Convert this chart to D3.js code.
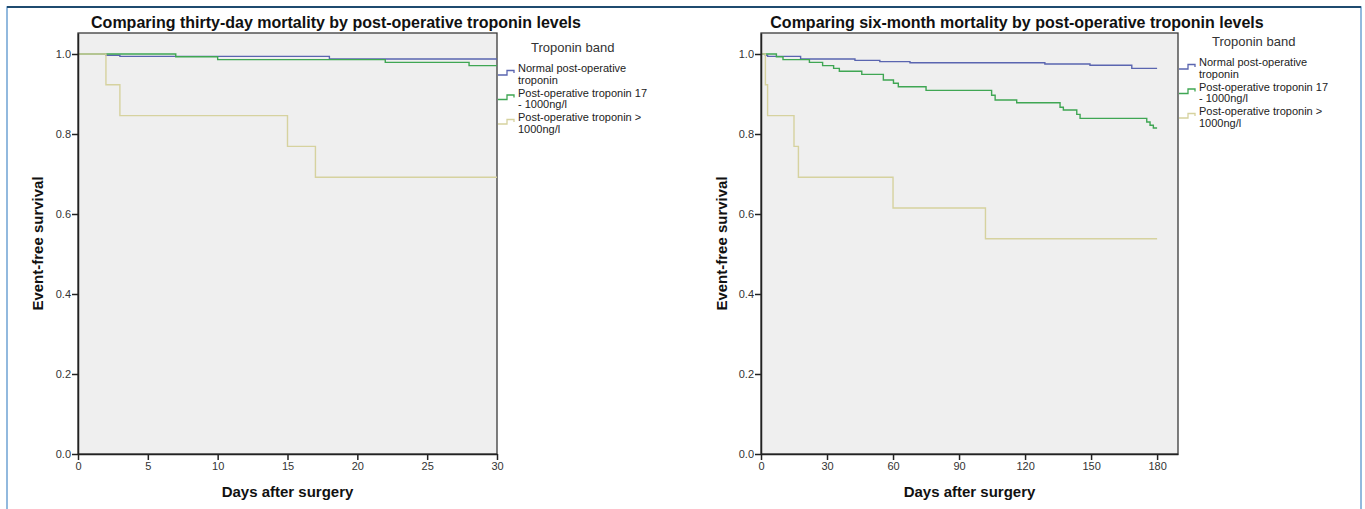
<!DOCTYPE html>
<html>
<head>
<meta charset="utf-8">
<script src="https://cdn.jsdelivr.net/npm/d3@7"></script>
<style>
body{margin:0;background:#fff;}
svg{display:block;font-family:Arial,"Liberation Sans",sans-serif;}
</style>
</head>
<body>
<svg id="chart"></svg>
<script>
var width = 1365;
var height = 509;

// Troponin bands, legend order
var bandLines = [["Normal post-operative", "troponin"],
                 ["Post-operative troponin 17", "- 1000ng/l"],
                 ["Post-operative troponin >", "1000ng/l"]];
var bandColors = ["#5a65b0", "#3fa653", "#d6d29f"];

// Kaplan-Meier steps [day, event-free survival], thirty-day follow-up
var thirtyNormal = [[0,1],[2,0.997],[3,0.994],[18,0.9875],[30,0.9875]];
var thirtyMid    = [[0,1],[7,0.993],[10,0.986],[22,0.979],[28,0.971],[30,0.971]];
var thirtyHigh   = [[0,1],[2,0.923],[3,0.846],[15,0.769],[17,0.692],[30,0.692]];

// six-month follow-up
var sixNormal = [[0,1],[2,0.997],[3,0.994],[18,0.9875],[42.7,0.984],[54,0.981],[67.7,0.978],
                 [129,0.975],[149.5,0.972],[168.5,0.964],[180,0.964]];
var sixMid    = [[0,1],[7,0.993],[10,0.986],[22,0.979],[28,0.971],[33,0.964],[35.6,0.957],
                 [45.8,0.949],[55.6,0.935],[60.2,0.927],[62.4,0.918],[75,0.909],[104.8,0.897],
                 [106.4,0.885],[116.2,0.878],[135.9,0.867],[137.4,0.860],[143.5,0.849],
                 [145,0.839],[175.3,0.830],[176.8,0.822],[178.3,0.815],[180,0.815]];
var sixHigh   = [[0,1],[2,0.923],[3,0.846],[15,0.769],[17,0.692],[60,0.615],[102,0.538],[180,0.538]];

var thirtyTicks = [0,5,10,15,20,25,30];
var sixTicks = [0,30,60,90,120,150,180];
var survivalTicks = [0,0.2,0.4,0.6,0.8,1.0];

var panels = [
    {title: "Comparing thirty-day mortality by post-operative troponin levels",
     series: [thirtyNormal, thirtyMid, thirtyHigh], ticks: thirtyTicks, xMax: 30,
     left: 78, right: 497, titleX: 336, yTitleX: 38, legendY: 72},
    {title: "Comparing six-month mortality by post-operative troponin levels",
     series: [sixNormal, sixMid, sixHigh], ticks: sixTicks, xMax: 189.5,
     left: 761, right: 1178, titleX: 1017, yTitleX: 722, legendY: 66}
];

var plotTop = 33, plotBottom = 454;

var svg = d3.select("#chart")
    .attr("width", width)
    .attr("height", height);

// outer frame
svg.append("rect")
    .attr("x", 7).attr("y", 7)
    .attr("width", 1354).attr("height", 520)
    .attr("fill", "none")
    .attr("stroke", "#6fa3d3")
    .attr("stroke-width", 1.5);
svg.append("line")
    .attr("x1", 7).attr("x2", 1361).attr("y1", 7).attr("y2", 7)
    .attr("stroke", "#1f4b6f")
    .attr("stroke-width", 2);

panels.forEach(function(p) {
    var x = d3.scaleLinear().domain([0, p.xMax]).range([p.left, p.right]);
    var y = d3.scaleLinear().domain([0, 1.0525]).range([plotBottom, plotTop]);
    var g = svg.append("g");

    g.append("rect")
        .attr("x", p.left).attr("y", plotTop)
        .attr("width", p.right - p.left).attr("height", plotBottom - plotTop)
        .attr("fill", "#efefef")
        .attr("stroke", "#3a3a3a")
        .attr("stroke-width", 1.3);

    var line = d3.line()
        .x(function(d) { return x(d[0]); })
        .y(function(d) { return y(d[1]); })
        .curve(d3.curveStepAfter);

    p.series.forEach(function(s, i) {
        g.append("path")
            .attr("d", line(s))
            .attr("fill", "none")
            .attr("stroke", bandColors[i])
            .attr("stroke-width", 1.4);
    });

    // axes
    var yAxis = g.append("g")
        .attr("transform", "translate(" + p.left + ",0)")
        .call(d3.axisLeft(y).tickValues(survivalTicks).tickFormat(d3.format(".1f"))
            .tickSize(6).tickSizeOuter(0).tickPadding(1));
    var xAxis = g.append("g")
        .attr("transform", "translate(0," + plotBottom + ")")
        .call(d3.axisBottom(x).tickValues(p.ticks).tickSize(6).tickSizeOuter(0).tickPadding(2));
    [yAxis, xAxis].forEach(function(a) {
        a.select(".domain").attr("stroke", "#222").attr("stroke-width", 1.5);
        a.selectAll(".tick line").attr("stroke", "#222").attr("stroke-width", 1.5);
        a.selectAll("text").attr("fill", "#333").style("font-size", "11px")
            .style("font-family", "Arial, 'Liberation Sans', sans-serif");
    });

    // titles
    g.append("text")
        .attr("x", p.titleX).attr("y", 28)
        .attr("text-anchor", "middle")
        .style("font-size", "16px").style("font-weight", "bold")
        .attr("fill", "#111")
        .text(p.title);
    g.append("text")
        .attr("x", (p.left + p.right) / 2)
        .attr("y", 497)
        .attr("text-anchor", "middle")
        .style("font-size", "15px").style("font-weight", "bold")
        .attr("fill", "#111")
        .text("Days after surgery");
    g.append("text")
        .attr("transform", "translate(" + p.yTitleX + "," + (plotTop + plotBottom) / 2 + ") rotate(-90)")
        .attr("dy", "0.35em")
        .attr("text-anchor", "middle")
        .style("font-size", "15px").style("font-weight", "bold")
        .attr("fill", "#111")
        .text("Event-free survival");

    // legend
    var lg = g.append("g");
    lg.append("text")
        .attr("x", p.right + 34).attr("y", p.legendY - 20)
        .style("font-size", "13px")
        .attr("fill", "#333")
        .text("Troponin band");
    bandLines.forEach(function(lines, i) {
        var by = p.legendY + i * 24.5;
        var sy = by + 3;
        var x0 = p.right + 1;
        lg.append("path")
            .attr("d", "M" + x0 + "," + sy + "H" + (x0 + 9) + "V" + (sy - 4.5) +
                "H" + (x0 + 16) + "V" + (sy - 2))
            .attr("fill", "none")
            .attr("stroke", bandColors[i])
            .attr("stroke-width", 1.3);
        lines.forEach(function(t, j) {
            lg.append("text")
                .attr("x", p.right + 21).attr("y", by + j * 11.5)
                .style("font-size", "11px")
                .attr("fill", "#222")
                .text(t);
        });
    });
});
</script>
</body>
</html>
